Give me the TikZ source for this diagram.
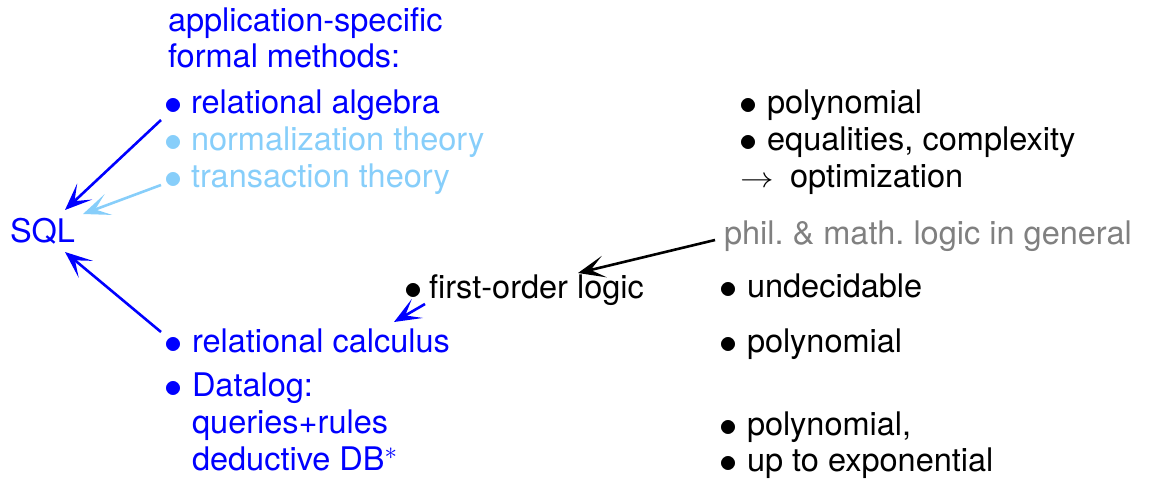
\documentclass[tikz,border=0pt]{standalone}
\usepackage{fontspec}
\setmainfont{TeX Gyre Heros}
\usetikzlibrary{arrows.meta}
\definecolor{dblue}{RGB}{0,0,255}
\definecolor{lblue}{RGB}{135,206,250}
\definecolor{lgray}{RGB}{128,128,128}
\newcommand\bul[1][27pt]{\makebox[#1][l]{\raisebox{-1.8pt}{\scalebox{1.45}{$\bullet$}}}}
\newcommand\myast{\raisebox{11pt}{\fontsize{24}{24}\selectfont$\ast$}}
\tikzset{
  txt/.style={anchor=base west, inner sep=0pt, outer sep=0pt, font=\fontsize{32.5}{37}\selectfont},
  arr/.style={line width=2.6pt, -{Stealth[length=27pt,width=22pt,inset=14pt]}},
}
\begin{document}
\begin{tikzpicture}[x=1pt,y=-1pt]
\useasboundingbox (0,0) rectangle (1150,479);
% left column
\node[txt, text=dblue] (app1) at (168,31) {application-specific};
\node[txt, text=dblue] (app2) at (168,67) {formal methods:};
\node[txt, text=dblue] (ra) at (164,113) {\bul relational algebra};
\node[txt, text=lblue] (nt) at (164,150) {\bul normalization theory};
\node[txt, text=lblue] (tt) at (164,187) {\bul transaction theory};
\node[txt, text=dblue] (sql) at (10,242) {SQL};
\node[txt, text=dblue] (rc) at (164,352) {\bul[28pt]relational calculus};
\node[txt, text=dblue] (dl) at (164,396) {\bul[28pt]Datalog:};
\node[txt, text=dblue] (qr) at (192,433) {queries+rules};
\node[txt, text=dblue] (dd) at (192,470) {deductive DB\myast};
% middle
\node[txt] (fol) at (404,298) {\bul[25pt]first-order logic};
\node[txt, text=lgray] (phil) at (724,244) {phil.\ \& math.\ logic in general};
% right column
\node[txt] (p1) at (739,113) {\bul[28pt]polynomial};
\node[txt] (eq) at (739,150) {\bul[28pt]equalities, complexity};
\node[txt] (opt) at (740,187) {\makebox[50pt][l]{\scalebox{1.35}[1.15]{$\rightarrow$}}optimization};
\node[txt] (und) at (719,297) {\bul[28pt]undecidable};
\node[txt] (p2) at (719,352) {\bul[28pt]polynomial};
\node[txt] (p3) at (719,435) {\bul[28pt]polynomial,};
\node[txt] (exp) at (719,471) {\bul[28pt]up to exponential};
% arrow endpoints
\coordinate (raS) at (161,120);
\coordinate (sqlA) at (65,210);
\coordinate (ttS) at (161,185);
\coordinate (sqlB) at (83,214);
\coordinate (rcS) at (161,332);
\coordinate (sqlC) at (65,252);
\coordinate (folS) at (425,304);
\coordinate (rcT) at (394,322);
\coordinate (philS) at (715,240);
\coordinate (folT) at (578,273);
\draw[arr, dblue] (raS) -- (sqlA);
\draw[arr, lblue] (ttS) -- (sqlB);
\draw[arr, dblue] (rcS) -- (sqlC);
\draw[arr, dblue] (folS) -- (rcT);
\draw[arr, black] (philS) -- (folT);
\end{tikzpicture}
\end{document}
